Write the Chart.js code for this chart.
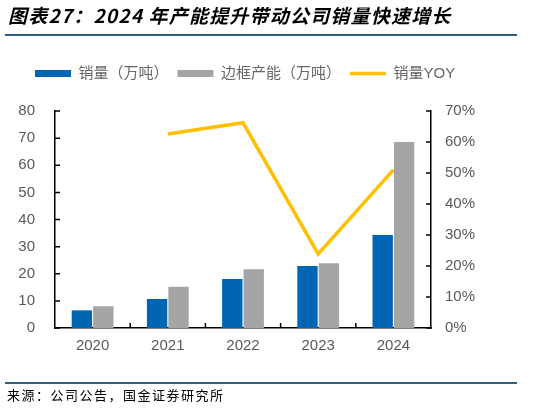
<!DOCTYPE html>
<html>
<head>
<meta charset="utf-8">
<script src="https://cdn.jsdelivr.net/npm/chart.js@4.4.0/dist/chart.umd.min.js"></script>
<style>
  body { margin: 0; width: 541px; height: 416px; position: relative; background: #fff; overflow: hidden;
         font-family: "Noto Sans CJK SC", sans-serif; }
  #chart { position: absolute; left: 0; top: 0; }
  #title { position: absolute; left: 8px; top: 1px; font-size: 19px; font-weight: bold; font-style: italic;
           letter-spacing: 1.2px; white-space: nowrap; color: #000; }
  .rule { position: absolute; left: 5px; width: 512px; height: 2px; background: #2b6282; }
  #src { position: absolute; left: 7px; top: 385px; font-size: 13px; letter-spacing: 1.5px; color: #000; white-space: nowrap; }
</style>
</head>
<body>
<canvas id="chart" width="541" height="416"></canvas>
<div id="title">图表27：2024 年产能提升带动公司销量快速增长</div>
<div class="rule" style="top:34px"></div>
<div class="rule" style="top:382px"></div>
<div id="src">来源：公司公告，国金证券研究所</div>
<script>
// chart data
const years = ['2020', '2021', '2022', '2023', '2024'];
const sales = [6.5, 10.7, 18.1, 22.9, 34.3];        // 销量（万吨）
const capacity = [8.0, 15.2, 21.7, 23.9, 68.6];     // 边框产能（万吨）
const salesYoy = [null, 62.6, 66.2, 23.9, 51.0];    // 销量YOY (%)

const textGray = '#595959';
const font = {family: '"Liberation Sans", "Noto Sans CJK SC", sans-serif', size: 15};

// legend: fixed height + shifted left edge
const legendFix = {
  id: 'legendFix',
  beforeInit(chart) {
    const fit = chart.legend.fit;
    chart.legend.fit = function () {
      fit.call(this);
      this.height = 54;
    };
  },
  afterLayout(chart) {
    chart.legend.left = 26;
  }
};

// small tick marks pointing into the plot
const innerTicks = {
  id: 'innerTicks',
  afterDraw(chart) {
    const {ctx, chartArea: a, scales: {x, y, y1}} = chart;
    ctx.save();
    ctx.strokeStyle = '#000';
    ctx.lineWidth = 1.5;
    ctx.beginPath();
    y.ticks.forEach(t => {
      const p = y.getPixelForValue(t.value);
      ctx.moveTo(a.left, p);
      ctx.lineTo(a.left + 5, p);
    });
    y1.ticks.forEach(t => {
      const p = y1.getPixelForValue(t.value);
      ctx.moveTo(a.right - 5, p);
      ctx.lineTo(a.right, p);
    });
    for (let i = 1; i < years.length; i++) {
      const p = (x.getPixelForValue(i - 1) + x.getPixelForValue(i)) / 2;
      ctx.moveTo(p, a.bottom);
      ctx.lineTo(p, a.bottom - 5);
    }
    ctx.stroke();
    ctx.restore();
  }
};

new Chart(document.getElementById('chart'), {
  type: 'bar',
  data: {
    labels: years,
    datasets: [{
      label: '销量（万吨）',
      data: sales,
      backgroundColor: '#0066b3',
      pointStyle: 'rect',
      barPercentage: 0.95,
      categoryPercentage: 0.57,
      yAxisID: 'y'
    }, {
      label: '边框产能（万吨）',
      data: capacity,
      backgroundColor: '#a5a5a5',
      pointStyle: 'rect',
      barPercentage: 0.95,
      categoryPercentage: 0.57,
      yAxisID: 'y'
    }, {
      type: 'line',
      label: '销量YOY',
      data: salesYoy,
      borderColor: '#ffc000',
      backgroundColor: '#ffc000',
      borderWidth: 3.5,
      pointRadius: 0,
      pointStyle: 'line',
      tension: 0,
      yAxisID: 'y1'
    }]
  },
  options: {
    responsive: false,
    animation: false,
    layout: {padding: {top: 57, left: 0, right: 0, bottom: 0}},
    plugins: {
      tooltip: {enabled: false},
      legend: {
        position: 'top',
        align: 'start',
        labels: {
          usePointStyle: true,
          pointStyleWidth: 36,
          boxHeight: 7,
          padding: 9,
          color: '#666666',
          font: {family: '"Liberation Sans", "Noto Sans CJK SC", sans-serif', size: 15}
        }
      }
    },
    scales: {
      x: {
        grid: {display: false, drawTicks: false},
        border: {color: '#000', width: 1.5},
        ticks: {color: textGray, font: font, padding: 9},
        afterFit(scale) { scale.height = 88; }
      },
      y: {
        position: 'left',
        min: 0, max: 80,
        grid: {display: false, drawTicks: false},
        border: {color: '#000', width: 1.5},
        ticks: {stepSize: 10, color: textGray, font: font, padding: 20},
        afterFit(scale) { scale.width = 55; }
      },
      y1: {
        position: 'right',
        min: 0, max: 70,
        grid: {display: false, drawTicks: false},
        border: {color: '#000', width: 1.5},
        ticks: {stepSize: 10, color: textGray, font: font, padding: 14, callback: v => v + '%'},
        afterFit(scale) { scale.width = 110; }
      }
    }
  },
  plugins: [legendFix, innerTicks]
});
</script>
</body>
</html>
